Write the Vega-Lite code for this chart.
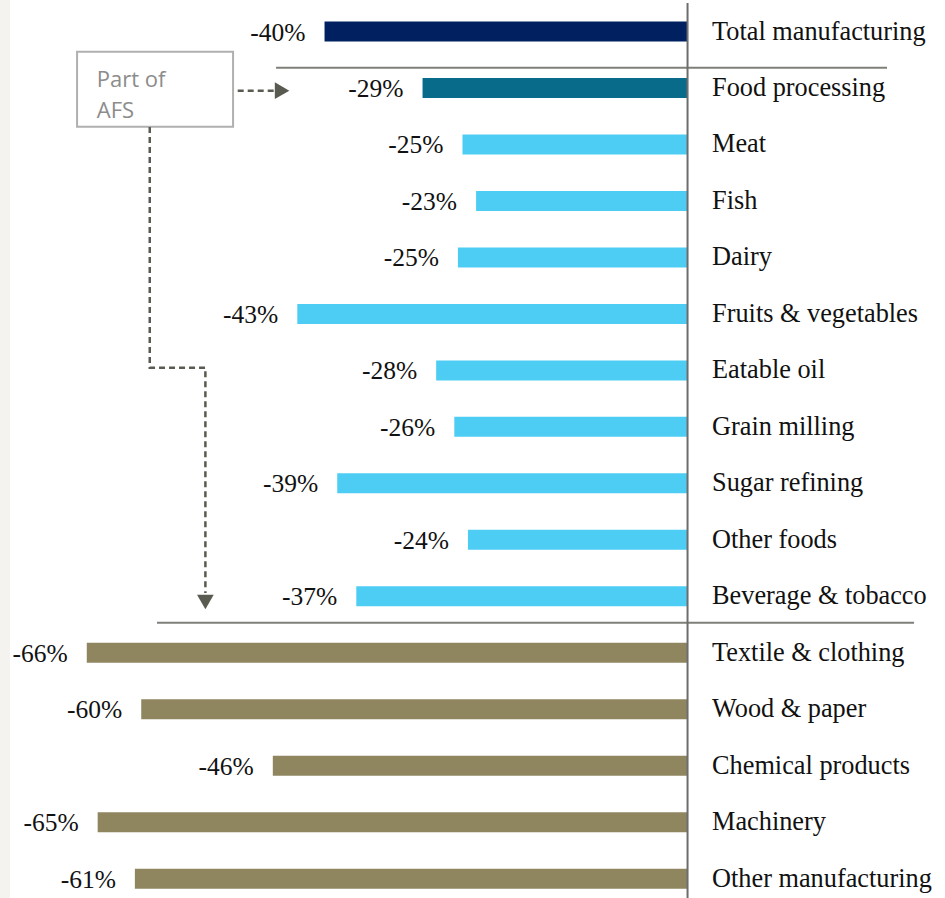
{
  "$schema": "https://vega.github.io/schema/vega-lite/v6.json",
  "width": 935,
  "height": 898,
  "autosize": {"type": "none"},
  "padding": {"left": 10, "top": 0, "right": 0, "bottom": 0},
  "background": "#f4f3ef",
  "config": {"view": {"stroke": null, "fill": "white"}},
  "datasets": {
    "main": [
      {"cat": "Total manufacturing", "value": -40.0, "label": "-40%", "group": "total"},
      {"cat": "Food processing", "value": -29.2, "label": "-29%", "group": "food"},
      {"cat": "Meat", "value": -24.8, "label": "-25%", "group": "sub"},
      {"cat": "Fish", "value": -23.3, "label": "-23%", "group": "sub"},
      {"cat": "Dairy", "value": -25.3, "label": "-25%", "group": "sub"},
      {"cat": "Fruits & vegetables", "value": -43.0, "label": "-43%", "group": "sub"},
      {"cat": "Eatable oil", "value": -27.7, "label": "-28%", "group": "sub"},
      {"cat": "Grain milling", "value": -25.7, "label": "-26%", "group": "sub"},
      {"cat": "Sugar refining", "value": -38.6, "label": "-39%", "group": "sub"},
      {"cat": "Other foods", "value": -24.2, "label": "-24%", "group": "sub"},
      {"cat": "Beverage & tobacco", "value": -36.5, "label": "-37%", "group": "sub"},
      {"cat": "Textile & clothing", "value": -66.2, "label": "-66%", "group": "other"},
      {"cat": "Wood & paper", "value": -60.2, "label": "-60%", "group": "other"},
      {"cat": "Chemical products", "value": -45.7, "label": "-46%", "group": "other"},
      {"cat": "Machinery", "value": -65.0, "label": "-65%", "group": "other"},
      {"cat": "Other manufacturing", "value": -60.9, "label": "-61%", "group": "other"}
    ],
    "box": [{"x1": -67.27, "x2": -50.08, "r1": 0.358, "r2": 1.686}],
    "boxtext": [
      {"x": -65.1, "r": 0.983, "t": "Part of"},
      {"x": -65.1, "r": 1.537, "t": "AFS"}
    ],
    "seps": [
      {"x1": -45.34, "x2": 21.98, "r": 0.641},
      {"x1": -58.46, "x2": 24.96, "r": 10.467}
    ],
    "axisline": [{"x": 0, "r1": -0.505, "r2": 15.342}],
    "paths": [
      {"path": "a", "seq": 1, "x": -49.57, "r": 1.048},
      {"path": "a", "seq": 2, "x": -45.56, "r": 1.048},
      {"path": "b", "seq": 1, "x": -59.26, "r": 1.691},
      {"path": "b", "seq": 2, "x": -59.26, "r": 5.953},
      {"path": "b", "seq": 3, "x": -53.13, "r": 5.953},
      {"path": "b", "seq": 4, "x": -53.13, "r": 9.942}
    ],
    "heads": [
      {"x": -44.68, "r": 1.048, "shape": "triangle-right"},
      {"x": -53.13, "r": 10.10, "shape": "triangle-down"}
    ]
  },
  "layer": [
    {
      "data": {"name": "main"},
      "encoding": {
        "y": {
          "field": "cat", "type": "nominal", "sort": null, "axis": null,
          "scale": {"paddingInner": 0.6459, "paddingOuter": 0.2727, "align": 0.698}
        }
      },
      "layer": [
        {
          "mark": {"type": "bar"},
          "encoding": {
            "x": {"field": "value", "type": "quantitative", "axis": null,
                  "scale": {"domain": [-74.66, 28.37], "nice": false, "zero": false}},
            "color": {
              "field": "group", "type": "nominal", "legend": null,
              "scale": {"domain": ["total", "food", "sub", "other"],
                        "range": ["#002060", "#086b8a", "#4dcdf4", "#8f8660"]}
            }
          }
        },
        {
          "mark": {"type": "text", "align": "right", "baseline": "middle", "dx": -19, "dy": 1,
                   "font": "Liberation Serif", "fontSize": 25.5, "color": "#111111"},
          "encoding": {
            "x": {"field": "value", "type": "quantitative"},
            "text": {"field": "label"}
          }
        },
        {
          "mark": {"type": "text", "align": "left", "baseline": "middle", "dx": 24.5, "dy": 0,
                   "font": "Liberation Serif", "fontSize": 26.3, "color": "#111111"},
          "encoding": {
            "x": {"datum": 0, "type": "quantitative"},
            "text": {"field": "cat"}
          }
        }
      ]
    },
    {
      "layer": [
        {
          "data": {"name": "box"},
          "mark": {"type": "rect", "fill": "white", "stroke": "#b0b0b0", "strokeWidth": 2},
          "encoding": {
            "x": {"field": "x1", "type": "quantitative"},
            "x2": {"field": "x2"},
            "y": {"field": "r1", "type": "quantitative", "axis": null,
                  "scale": {"domain": [-0.5577, 15.342], "reverse": true, "nice": false, "zero": false}},
            "y2": {"field": "r2"}
          }
        },
        {
          "data": {"name": "boxtext"},
          "mark": {"type": "text", "align": "left", "baseline": "alphabetic",
                   "font": "Open Sans", "fontSize": 22, "color": "#8c8c8c"},
          "encoding": {
            "x": {"field": "x", "type": "quantitative"},
            "y": {"field": "r", "type": "quantitative"},
            "text": {"field": "t"}
          }
        },
        {
          "data": {"name": "seps"},
          "mark": {"type": "rule", "color": "#7f7f7a", "strokeWidth": 2},
          "encoding": {
            "x": {"field": "x1", "type": "quantitative"},
            "x2": {"field": "x2"},
            "y": {"field": "r", "type": "quantitative"}
          }
        },
        {
          "data": {"name": "axisline"},
          "mark": {"type": "rule", "color": "#6d6d6d", "strokeWidth": 2},
          "encoding": {
            "x": {"field": "x", "type": "quantitative"},
            "y": {"field": "r1", "type": "quantitative"},
            "y2": {"field": "r2"}
          }
        },
        {
          "data": {"name": "paths"},
          "mark": {"type": "line", "color": "#5a5b50", "strokeWidth": 2.5, "strokeDash": [6, 4]},
          "encoding": {
            "x": {"field": "x", "type": "quantitative"},
            "y": {"field": "r", "type": "quantitative"},
            "detail": {"field": "path"},
            "order": {"field": "seq", "type": "quantitative"}
          }
        },
        {
          "data": {"name": "heads"},
          "mark": {"type": "point", "filled": true, "color": "#5a5b50", "opacity": 1, "size": 280},
          "encoding": {
            "x": {"field": "x", "type": "quantitative"},
            "y": {"field": "r", "type": "quantitative"},
            "shape": {"field": "shape", "type": "nominal", "scale": null, "legend": null}
          }
        }
      ]
    }
  ],
  "resolve": {"scale": {"y": "independent"}}
}
